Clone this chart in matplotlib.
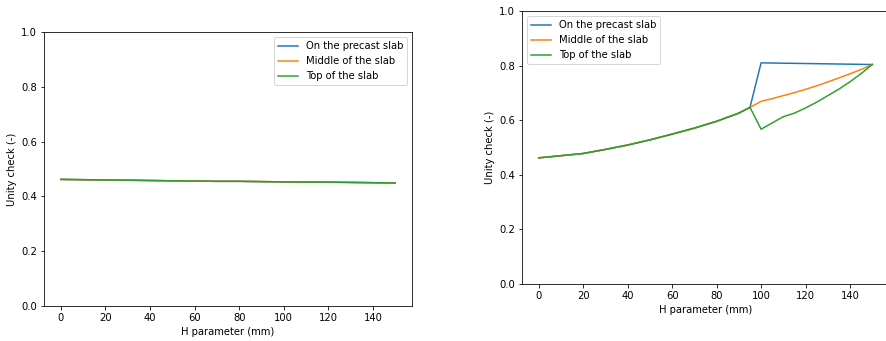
import numpy as np
import matplotlib
matplotlib.use('Agg')
import matplotlib.pyplot as plt

labels = ['On the precast slab', 'Middle of the slab', 'Top of the slab']

# left: nearly flat unity check
h_left = [0, 10, 20, 30, 40, 50, 60, 70, 80, 90, 100, 110, 120, 130, 140, 150]
uc_left = [0.462, 0.461, 0.460, 0.459, 0.458, 0.457, 0.456, 0.455, 0.455, 0.454,
           0.453, 0.452, 0.452, 0.451, 0.450, 0.449]

# right: common part up to 95 mm
h_common = [0, 10, 20, 30, 40, 50, 60, 70, 80, 90, 95]
uc_common = [0.462, 0.470, 0.478, 0.493, 0.509, 0.528, 0.549, 0.571, 0.596, 0.626, 0.647]

h_precast = [100, 150]
uc_precast = [0.810, 0.804]

h_middle = [100, 105, 110, 115, 120, 125, 130, 135, 140, 145, 150]
uc_middle = [0.669, 0.679, 0.690, 0.701, 0.713, 0.726, 0.740, 0.755, 0.770, 0.786, 0.804]

h_top = [100, 105, 110, 115, 120, 125, 130, 135, 140, 145, 150]
uc_top = [0.567, 0.590, 0.613, 0.626, 0.645, 0.666, 0.690, 0.714, 0.741, 0.771, 0.804]

dpi = 72
fig = plt.figure(figsize=(886/dpi, 341/dpi), dpi=dpi)

ax1 = fig.add_axes([44/886, 35/341, 368/886, 274/341])
for lab in labels:
    ax1.plot(h_left, uc_left, label=lab)
ax1.set_ylim(0., 1.)
ax1.set_xlabel('H parameter (mm)')
ax1.set_ylabel('Unity check (-)')
ax1.legend(loc='upper right')

ax2 = fig.add_axes([522/886, 57/341, 367/886, 273/341])
ax2.plot(h_common + h_precast, uc_common + uc_precast, label=labels[0])
ax2.plot(h_common + h_middle, uc_common + uc_middle, label=labels[1])
ax2.plot(h_common + h_top, uc_common + uc_top, label=labels[2])
ax2.set_ylim(0., 1.)
ax2.set_xlabel('H parameter (mm)')
ax2.set_ylabel('Unity check (-)')
ax2.legend(loc='upper left')

fig.savefig('out.png', dpi=dpi)
